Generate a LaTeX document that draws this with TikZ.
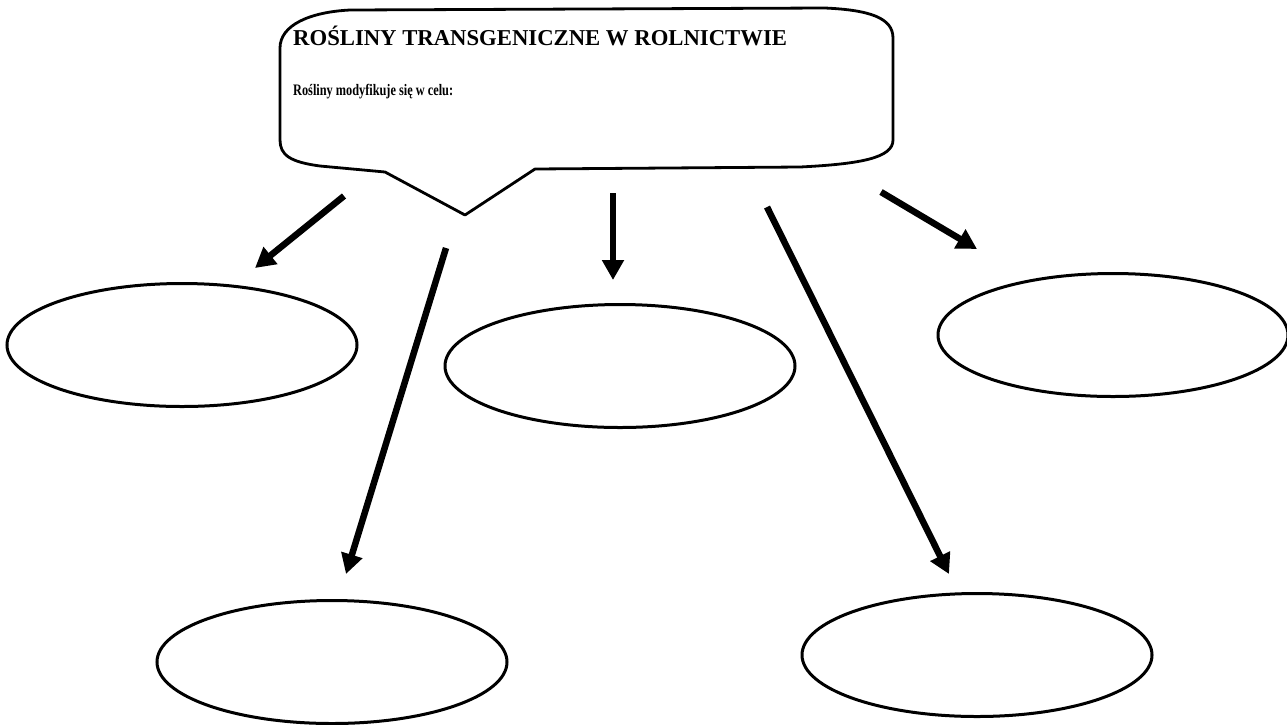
\documentclass[tikz,border=0pt]{standalone}
\usepackage{fontspec}
\setmainfont{Liberation Serif}[BoldFont={Liberation Serif Bold}]
\usetikzlibrary{shapes.geometric,arrows.meta}
\tikzset{
  oval/.style={ellipse, draw, line width=3pt, minimum width=350pt, minimum height=123pt, inner sep=0pt},
  bigarrow/.style={line width=6.5pt, -{Triangle[length=20pt,width=21pt]}},
  outline/.style={line width=2.8pt, line join=round},
}
\begin{document}
\begin{tikzpicture}[x=1pt,y=-1pt]
\useasboundingbox (0,0) rectangle (1287,724);
% callout
\draw[outline] (280,48) .. controls (280,25) and (310,12) .. (350,10)
  -- (825,8) .. controls (870,10) and (893,18) .. (893,38)
  -- (893,140) .. controls (893,158) and (860,164) .. (800,167)
  -- (535,169) -- (465,215) -- (385,172) -- (320,166)
  .. controls (290,162) and (280,155) .. (280,140) -- cycle;
\node[anchor=base west, inner sep=0pt, font=\bfseries\fontsize{22.7}{26}\selectfont] (title) at (293,45) {ROŚLINY TRANSGENICZNE W ROLNICTWIE};
\node[anchor=base west, inner sep=0pt, font=\bfseries\fontsize{12.3}{15}\selectfont] (sub) at (293,95) {\scalebox{1}[1.3]{Rośliny modyfikuje się w celu:}};
% ellipses
\node[oval] (e1) at (182,345) {};
\node[oval] (e2) at (620,366) {};
\node[oval] (e3) at (1113,335) {};
\node[oval] (e4) at (332,662) {};
\node[oval] (e5) at (977,655) {};
% arrow ends
\coordinate (a1s) at (344,196); \coordinate (a1e) at (255,268);
\coordinate (a2s) at (446,248); \coordinate (a2e) at (346,574);
\coordinate (a3s) at (613,193); \coordinate (a3e) at (613,280);
\coordinate (a4s) at (767,207); \coordinate (a4e) at (949,574);
\coordinate (a5s) at (881,192); \coordinate (a5e) at (977,249);
\draw[bigarrow] (a1s) -- (a1e);
\draw[bigarrow] (a2s) -- (a2e);
\draw[bigarrow] (a3s) -- (a3e);
\draw[bigarrow] (a4s) -- (a4e);
\draw[bigarrow] (a5s) -- (a5e);
\end{tikzpicture}
\end{document}
